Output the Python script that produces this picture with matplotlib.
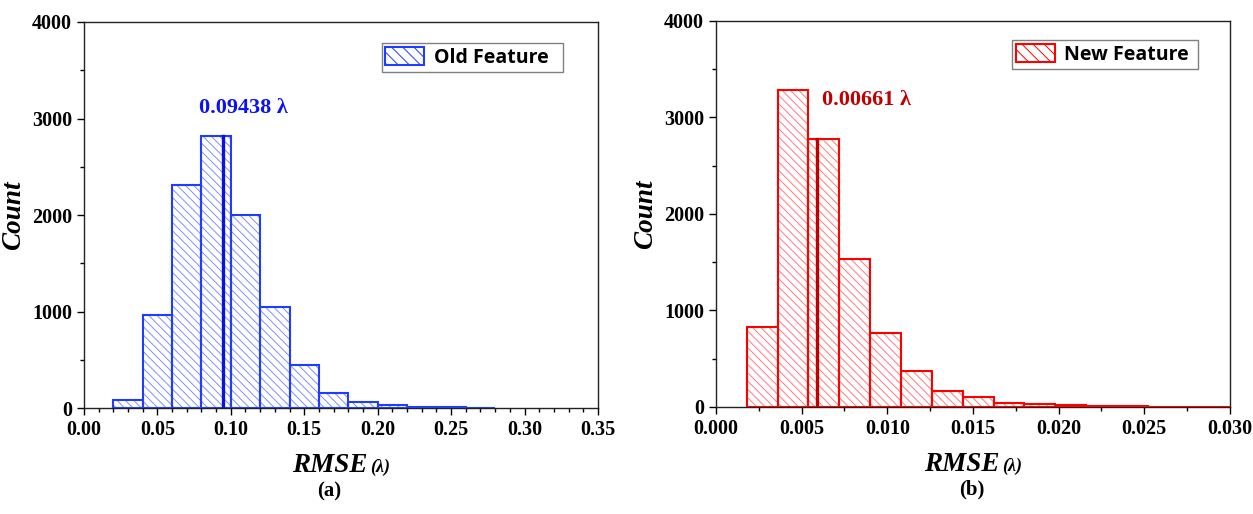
import matplotlib
matplotlib.use("Agg")
import matplotlib.pyplot as plt
from matplotlib.patches import Patch
from matplotlib.ticker import MultipleLocator, FormatStrFormatter

# ---- data ----
old_edges = [0.02, 0.04, 0.06, 0.08, 0.10, 0.12, 0.14, 0.16, 0.18, 0.20, 0.22, 0.24, 0.26]
old_counts = [85, 965, 2315, 2815, 2000, 1050, 445, 160, 58, 30, 13, 6, 3]
old_width = 0.02
old_mean_x = 0.09438
old_mean_label = "0.09438 λ"

new_edges = [0.0018, 0.0036, 0.0054, 0.0072, 0.0090, 0.0108, 0.0126, 0.0144,
             0.0162, 0.0180, 0.0198, 0.0216, 0.0234, 0.0252, 0.0270, 0.0288]
new_counts = [826, 3285, 2777, 1534, 767, 373, 170, 105, 45, 31, 21, 10, 8, 5, 4, 2]
new_width = 0.0018
new_mean_x = 0.0059
new_mean_label = "0.00661 λ"

SERIF = ["Liberation Serif", "DejaVu Serif"]
plt.rcParams["font.family"] = SERIF
plt.rcParams["font.weight"] = "bold"
plt.rcParams["hatch.linewidth"] = 0.7

fig = plt.figure(figsize=(12.53, 5.14), dpi=100)
ax_a = fig.add_axes([0.0670, 0.2062, 0.4102, 0.7510])
ax_b = fig.add_axes([0.5714, 0.2082, 0.4102, 0.7510])

panels = [
    (ax_a, old_edges, old_counts, old_width, "#1f3cff", "#7d8fff", "#0a14d8",
     old_mean_x, old_mean_label, "#0a14f0", (0.0784, 3110), "Old Feature  ",
     0.35, 0.05, 0.01, "%.2f", (0.932, 0.946), "(a)", 0.477),
    (ax_b, new_edges, new_counts, new_width, "#ff0000", "#ff7a7a", "#c00000",
     new_mean_x, new_mean_label, "#c00000", (0.00617, 3180), "New Feature ",
     0.030, 0.005, 0.0025, "%.3f", (0.938, 0.951), "(b)", 0.497),
]

for (ax, edges, counts, width, edge_c, hatch_c, line_c, mean_x, mean_lbl, txt_c,
     txt_xy, leg_lbl, xmax, xmaj, xmin_, fmt, leg_anchor, tag, tag_x) in panels:
    # hatch fill, then outline on top
    ax.bar(edges, counts, width=width, align="edge", fill=False,
           hatch="\\\\\\\\", edgecolor=hatch_c, linewidth=0, zorder=2)
    ax.bar(edges, counts, width=width, align="edge", fill=False,
           edgecolor=edge_c, linewidth=1.5, zorder=3)
    # mean line
    idx = max(i for i, e in enumerate(edges) if e <= mean_x)
    ax.plot([mean_x, mean_x], [0, counts[idx]], color=line_c, linewidth=2.4, zorder=4)
    ax.text(txt_xy[0], txt_xy[1], mean_lbl, color=txt_c, fontsize=16,
            fontweight="bold", ha="left", va="center")

    ax.set_xlim(0, xmax)
    ax.set_ylim(0, 4000)
    ax.xaxis.set_major_locator(MultipleLocator(xmaj))
    ax.xaxis.set_minor_locator(MultipleLocator(xmin_))
    ax.xaxis.set_major_formatter(FormatStrFormatter(fmt))
    ax.yaxis.set_major_locator(MultipleLocator(1000))
    ax.yaxis.set_minor_locator(MultipleLocator(500))
    ax.tick_params(which="major", direction="out", length=5, width=1, labelsize=14.5)
    ax.tick_params(which="minor", direction="out", length=3, width=1)
    for lab in ax.get_xticklabels() + ax.get_yticklabels():
        lab.set_fontweight("bold")
    for sp in ax.spines.values():
        sp.set_linewidth(1.0)
        sp.set_color("#222222")

    ax.set_ylabel("Count", fontsize=19.5, fontweight="bold", fontstyle="italic")
    ax.yaxis.set_label_coords(-0.112, 0.5)
    ax.text(0.552, -0.166, "RMSE", transform=ax.transAxes, ha="right", va="baseline",
            fontsize=19.5, fontweight="bold", fontstyle="italic")
    ax.text(0.556, -0.166, "(λ)", transform=ax.transAxes, ha="left", va="baseline",
            fontsize=13, fontweight="bold", fontstyle="italic")
    ax.text(tag_x, -0.215, tag, transform=ax.transAxes, ha="center", va="center",
            fontsize=15, fontweight="bold")

    handle = Patch(facecolor="white", edgecolor=edge_c, hatch="\\\\\\", linewidth=1.5)
    leg = ax.legend([handle], [leg_lbl], loc="upper right", bbox_to_anchor=leg_anchor,
                    borderaxespad=0, fancybox=False, framealpha=1,
                    prop={"family": "Open Sans", "weight": "bold", "size": 14},
                    handlelength=2.0, handleheight=1.1, handletextpad=0.5,
                    borderpad=0.2)
    leg.get_frame().set_edgecolor("#808080")
    leg.get_frame().set_linewidth(1.0)

fig.savefig("out.png", dpi=100)
